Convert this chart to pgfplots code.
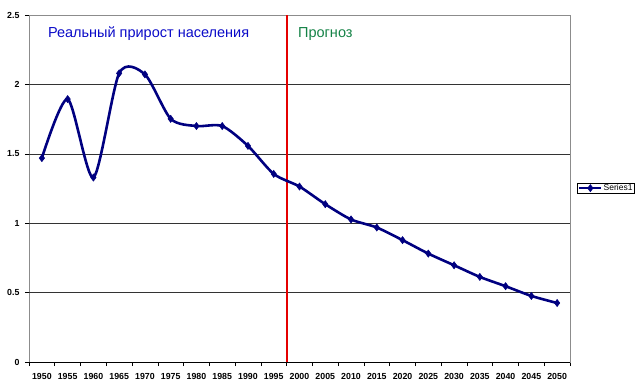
\documentclass[border=0pt]{standalone}
\usepackage{fontspec}
\setmainfont{Liberation Sans}
\usepackage{pgfplots}
\pgfplotsset{compat=1.18}
\definecolor{navyline}{RGB}{0,0,128}
\definecolor{realblue}{RGB}{10,10,200}
\definecolor{progreen}{RGB}{20,130,70}
\begin{document}
\begin{tikzpicture}[x=1pt,y=1pt]
\useasboundingbox (-29,-29) rectangle (611,362);
\begin{axis}[
  at={(0,0)}, anchor=south west,
  scale only axis, width=541pt, height=347pt,
  xmin=-0.5, xmax=20.5, ymin=0, ymax=2.5,
  xtick={0,...,20},
  xticklabels={1950,1955,1960,1965,1970,1975,1980,1985,1990,1995,2000,2005,2010,2015,2020,2025,2030,2035,2040,2045,2050},
  minor xtick={-0.5,0.5,...,20.5},
  ytick={0,0.5,1,1.5,2,2.5},
  yticklabels={0,0.5,1,1.5,2,2.5},
  xtick pos=bottom, ytick pos=left,
  tick align=outside,
  major x tick style={draw=none},
  minor x tick style={black, line width=0.6pt},
  major y tick style={black, line width=0.6pt},
  major tick length=4pt, minor tick length=4pt,
  axis line style={draw=black!45, line width=0.8pt},
  tick label style={font=\fontsize{8.8}{10}\selectfont\bfseries},
  /pgf/number format/assume math mode=true,
  xticklabel style={yshift=-4pt},
  yticklabel style={xshift=-2pt},
  legend style={at={(1.0125,0.501)}, anchor=west, draw=black, line width=0.6pt,
    font=\fontsize{8.5}{9}\selectfont, inner xsep=1pt, inner ysep=0.5pt, row sep=0pt,
    legend cell align=left, nodes={inner sep=1pt}},
  legend image code/.code={
    \draw[#1, line width=1.6pt] (0pt,0pt) -- (22pt,0pt);
    \draw[#1, mark repeat=2, mark phase=2] plot coordinates {(0pt,0pt) (11pt,0pt) (22pt,0pt)};
  },
  clip=false,
]
\foreach \yy in {0.5,1,1.5,2}{
  \edef\tmp{\noexpand\draw[black!80, line width=0.6pt] (axis cs:-0.5,\yy) -- (axis cs:20.5,\yy);}
  \tmp
}
\draw[black, line width=0.8pt] (axis cs:-0.5,0) -- (axis cs:20.5,0);
\draw[red!90!black, line width=2pt] (axis cs:9.5,0) -- (axis cs:9.5,2.5);
\addplot[navyline, line width=2.6pt, smooth, tension=0.45,
  mark=diamond*, mark size=3.6pt, mark options={solid, fill=navyline, draw=navyline, line width=0.5pt}]
  coordinates {
  (0,1.469) (1,1.894) (2,1.329) (3,2.080) (4,2.072) (5,1.752) (6,1.700) (7,1.700)
  (8,1.557) (9,1.355) (10,1.264) (11,1.137) (12,1.027) (13,0.969) (14,0.878)
  (15,0.781) (16,0.697) (17,0.613) (18,0.546) (19,0.476) (20,0.425)
  };
\addlegendentry{Series1}
\node[anchor=base west, text=realblue, font=\fontsize{14.5}{17}\selectfont, inner sep=0pt]
  at (axis cs:0.23,2.335) {Реальный прирост населения};
\node[anchor=base west, text=progreen, font=\fontsize{14.5}{17}\selectfont, inner sep=0pt]
  at (axis cs:9.94,2.335) {Прогноз};
\end{axis}
\end{tikzpicture}
\end{document}
